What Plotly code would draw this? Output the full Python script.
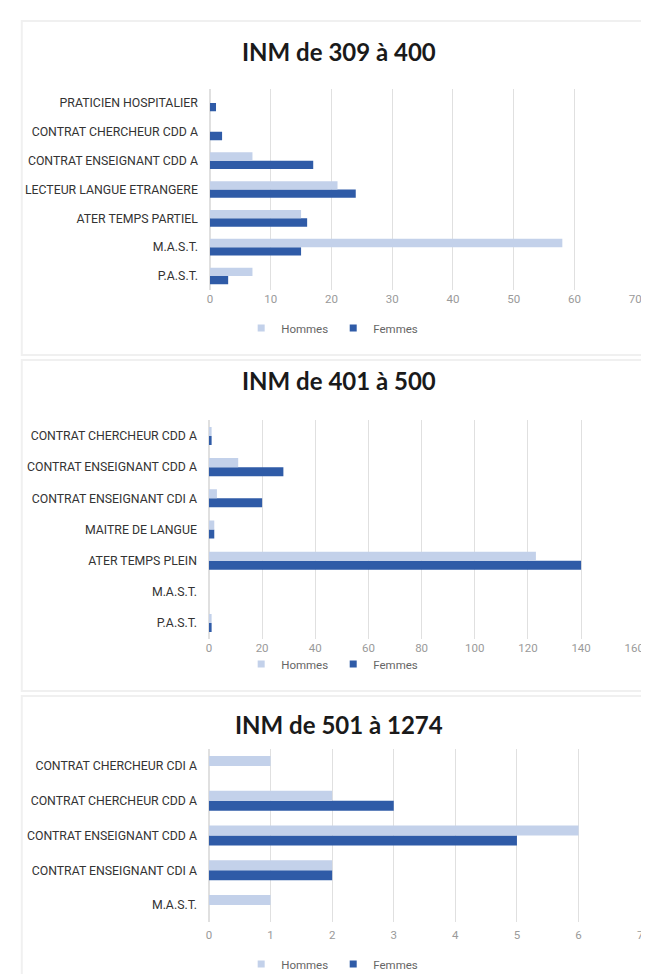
import plotly.graph_objects as go

# ---------- data ----------
titles = ["INM de 309 à 400", "INM de 401 à 500", "INM de 501 à 1274"]

cats1 = ["P.A.S.T.", "M.A.S.T.", "ATER TEMPS PARTIEL", "LECTEUR LANGUE ETRANGERE",
         "CONTRAT ENSEIGNANT CDD A", "CONTRAT CHERCHEUR CDD A", "PRATICIEN HOSPITALIER"]
hommes1 = [7, 58, 15, 21, 7, 0, 0]
femmes1 = [3, 15, 16, 24, 17, 2, 1]

cats2 = ["P.A.S.T.", "M.A.S.T.", "ATER TEMPS PLEIN", "MAITRE DE LANGUE",
         "CONTRAT ENSEIGNANT CDI A", "CONTRAT ENSEIGNANT CDD A", "CONTRAT CHERCHEUR CDD A"]
hommes2 = [1, 0, 123, 2, 3, 11, 1]
femmes2 = [1, 0, 140, 2, 20, 28, 1]

cats3 = ["M.A.S.T.", "CONTRAT ENSEIGNANT CDI A", "CONTRAT ENSEIGNANT CDD A",
         "CONTRAT CHERCHEUR CDD A", "CONTRAT CHERCHEUR CDI A"]
hommes3 = [1, 2, 6, 2, 1]
femmes3 = [0, 2, 5, 3, 0]

x_ranges = [[0, 70], [0, 160], [0, 7]]
x_dticks = [10, 20, 1]

# ---------- layout helpers ----------
H, W = 974, 649
def py(p):
    return 1 - p / H

C_H = "#c3d1ea"
C_F = "#2f5ba7"

panels = [
    dict(cats=cats1, h=hommes1, f=femmes1, ydom=[py(282.4), py(80.6)], xdom=[203/W, 637/W],
         title_y=43, legend_y=326, standoff=0),
    dict(cats=cats2, h=hommes2, f=femmes2, ydom=[py(630.6), py(412.4)], xdom=[202/W, 636/W],
         title_y=372, legend_y=662, standoff=1),
    dict(cats=cats3, h=hommes3, f=femmes3, ydom=[py(914.4), py(740.6)], xdom=[202/W, 642/W],
         title_y=716, legend_y=962, standoff=4),
]

fig = go.Figure()
layout = dict(
    width=W, height=H, margin=dict(l=0, r=0, t=0, b=0),
    paper_bgcolor="white", plot_bgcolor="white",
    barmode="group", bargap=0.42, bargroupgap=0.0,
    showlegend=True, annotations=[], shapes=[],
)

FONT = "Roboto, Liberation Sans, sans-serif"
label_font = dict(family=FONT, size=12.3, color="#333333")
tick_font = dict(family=FONT, size=11.5, color="#9a9a9a")

for i, p in enumerate(panels):
    n = "" if i == 0 else str(i + 1)
    xa, ya = "x" + n, "y" + n
    lg = "legend" + n
    fig.add_trace(go.Bar(y=p["cats"], x=p["f"], orientation="h", name="Femmes",
                         marker=dict(color=C_F, line=dict(width=0)), xaxis=xa, yaxis=ya,
                         showlegend=False))
    fig.add_trace(go.Bar(y=p["cats"], x=p["h"], orientation="h", name="Hommes",
                         marker=dict(color=C_H, line=dict(width=0)), xaxis=xa, yaxis=ya,
                         showlegend=False))
    # legend entries (small square markers like the Excel legend)
    fig.add_trace(go.Scatter(x=[None], y=[None], mode="markers", name="Hommes",
                             marker=dict(symbol="square", size=7, color=C_H),
                             xaxis=xa, yaxis=ya, legend=lg, legendrank=1))
    fig.add_trace(go.Scatter(x=[None], y=[None], mode="markers", name="Femmes",
                             marker=dict(symbol="square", size=7, color=C_F),
                             xaxis=xa, yaxis=ya, legend=lg, legendrank=2))
    layout["xaxis" + n] = dict(domain=p["xdom"], anchor=ya, range=x_ranges[i], dtick=x_dticks[i],
                               showgrid=True, gridcolor="#e0e0e0", gridwidth=1,
                               zeroline=True, zerolinecolor="#e0e0e0", showline=False,
                               tickfont=tick_font, ticks="", ticklabelstandoff=p["standoff"],
                               fixedrange=True)
    layout["yaxis" + n] = dict(domain=p["ydom"], anchor=xa, type="category",
                               categoryorder="array", categoryarray=p["cats"],
                               showgrid=False, zeroline=False, showline=False, ticks="",
                               tickfont=label_font, ticklabelstandoff=11, fixedrange=True)
    layout[lg] = dict(orientation="h", x=0.505, xanchor="center", y=py(p["legend_y"] - 6),
                      yanchor="middle", font=dict(family=FONT, size=11.5, color="#666666"),
                      itemwidth=30, bgcolor="rgba(0,0,0,0)", tracegroupgap=0,
                      itemsizing="trace")
    layout["annotations"].append(dict(text="<b>" + titles[i] + "</b>", x=335/W, y=py(p["title_y"]),
                                      xref="paper", yref="paper", xanchor="center", yanchor="middle",
                                      showarrow=False,
                                      font=dict(family="Lato, Open Sans, sans-serif", size=24,
                                                color="#1a1a1a")))

# faint panel frames
for (y0, y1) in [(13, 347), (352, 683), (688, 980)]:
    layout["shapes"].append(dict(type="rect", xref="paper", yref="paper",
                                 x0=11/W, x1=1.05, y0=py(y1), y1=py(y0),
                                 line=dict(color="#f0f0f0", width=2), layer="below"))

fig.update_layout(**layout)
fig.write_html("out.html")
